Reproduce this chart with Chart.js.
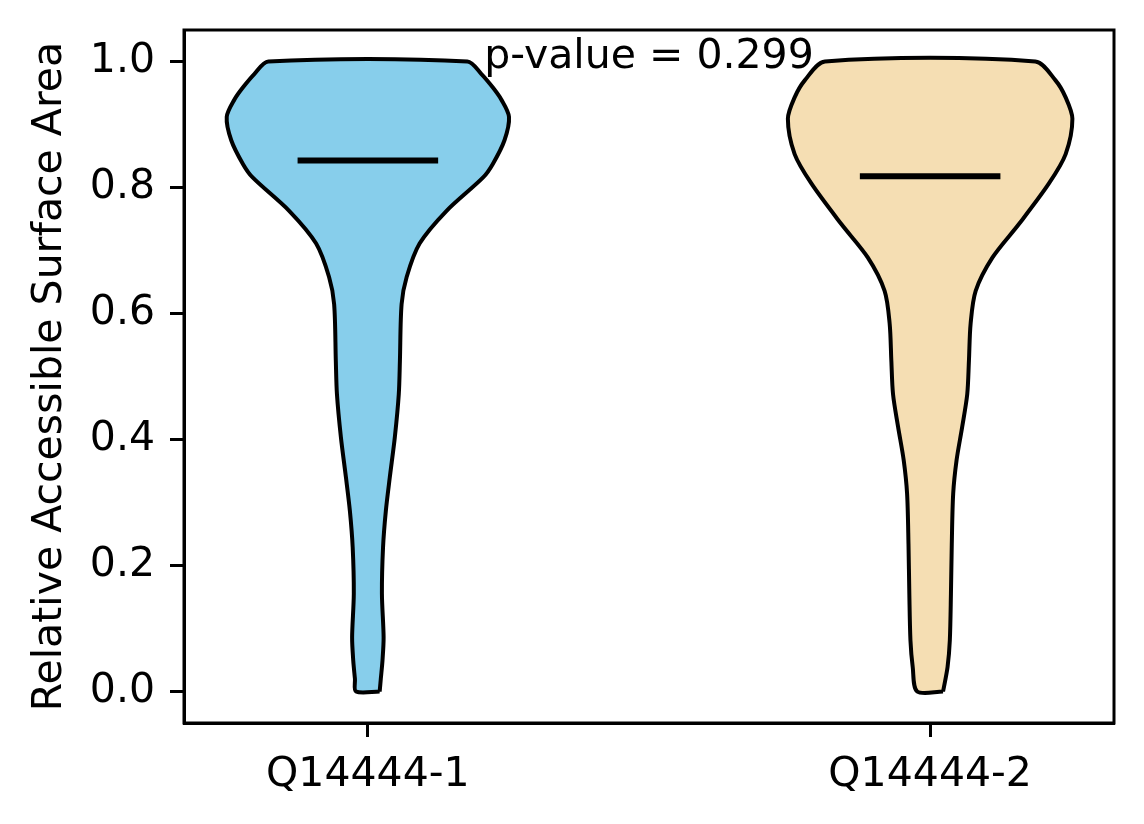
<!DOCTYPE html>
<html>
<head>
<meta charset="utf-8">
<script src="https://cdn.jsdelivr.net/npm/chart.js@4.4.0/dist/chart.umd.min.js"></script>
<style>
  html, body { margin: 0; padding: 0; background: #fff; }
  canvas { display: block; }
</style>
</head>
<body>
<canvas id="violinChart" width="1144" height="824"></canvas>
<script>
// groups and their x positions
const categories = ["Q14444-1", "Q14444-2"];
const positions = [0, 1];
const colors = ["#87CEEB", "#F5DEB3"];
const medians = [0.843, 0.818];
const medianHalfWidth = 0.125;

// violin outlines: level (y) and half width (x units)
const violin1Y = [0.0, 0.020, 0.049, 0.086, 0.155, 0.229, 0.287, 0.340, 0.404, 0.472, 0.525,
                  0.615, 0.658, 0.711, 0.763, 0.816, 0.837, 0.875, 0.912, 0.940, 0.959, 0.980, 1.0];
const violin1W = [0.021, 0.023, 0.026, 0.028, 0.025, 0.027, 0.032, 0.039, 0.048, 0.055, 0.057,
                  0.060, 0.069, 0.092, 0.140, 0.205, 0.222, 0.243, 0.251, 0.237, 0.222, 0.202, 0.177];
const violin2Y = [0.0, 0.039, 0.081, 0.155, 0.234, 0.314, 0.367, 0.420, 0.472, 0.525,
                  0.584, 0.636, 0.689, 0.742, 0.806, 0.853, 0.909, 0.943, 0.970, 1.0];
const violin2W = [0.023, 0.031, 0.035, 0.037, 0.0385, 0.041, 0.047, 0.057, 0.066, 0.069,
                  0.072, 0.081, 0.111, 0.158, 0.211, 0.241, 0.253, 0.241, 0.223, 0.187];

const yTicks = [0.0, 0.2, 0.4, 0.6, 0.8, 1.0];
const pValueText = "p-value = 0.299";
const pValueX = 0.5;
const pValueY = 0.99;

const FONT = { family: "DejaVu Sans", size: 41 };

function violinOutline(pos, ys, ws) {
  const right = ys.map((y, i) => ({ x: pos + ws[i], y: y }));
  const left = ys.map((y, i) => ({ x: pos - ws[i], y: y })).reverse();
  return right.concat(left, [right[0]]);
}

const outlines = [
  violinOutline(positions[0], violin1Y, violin1W),
  violinOutline(positions[1], violin2Y, violin2W),
];

const datasets = [];
outlines.forEach((pts, i) => {
  datasets.push({
    data: pts,
    order: 2,
    showLine: true,
    fill: "shape",
    backgroundColor: colors[i],
    borderColor: "#000",
    borderWidth: 4,
    tension: 0.3,
    pointRadius: 0,
  });
});
medians.forEach((m, i) => {
  datasets.push({
    data: [
      { x: positions[i] - medianHalfWidth, y: m },
      { x: positions[i] + medianHalfWidth, y: m },
    ],
    order: 1,
    showLine: true,
    fill: false,
    borderColor: "#000",
    borderWidth: 6,
    borderCapStyle: "butt",
    pointRadius: 0,
  });
});

// frame round the plot and the p-value note
const framePlugin = {
  id: "frame",
  afterDatasetsDraw(chart) {
    const { ctx, scales } = chart;
    ctx.save();
    ctx.fillStyle = "#000";
    ctx.font = FONT.size + "px '" + FONT.family + "'";
    ctx.textAlign = "center";
    ctx.textBaseline = "alphabetic";
    ctx.fillText(pValueText, scales.x.getPixelForValue(pValueX), scales.y.getPixelForValue(pValueY));
    ctx.restore();
  },
  afterDraw(chart) {
    const { ctx, chartArea } = chart;
    ctx.save();
    ctx.strokeStyle = "#000";
    ctx.lineWidth = 3;
    ctx.strokeRect(chartArea.left, chartArea.top,
      chartArea.right - chartArea.left, chartArea.bottom - chartArea.top);
    ctx.restore();
  },
};

new Chart(document.getElementById("violinChart"), {
  type: "scatter",
  data: { datasets: datasets },
  options: {
    responsive: false,
    animation: false,
    layout: { padding: { left: 0, top: 30, right: 30, bottom: 0 } },
    plugins: { legend: { display: false }, tooltip: { enabled: false } },
    scales: {
      x: {
        type: "linear",
        min: -0.327,
        max: 1.327,
        afterBuildTicks: (scale) => { scale.ticks = positions.map((v) => ({ value: v })); },
        afterFit: (scale) => {
          scale.height = 101;
          scale.paddingLeft = 0;
          scale.paddingRight = 0;
        },
        ticks: {
          color: "#000",
          font: FONT,
          padding: 14,
          maxRotation: 0,
          callback: (value, index) => categories[index],
        },
        grid: { drawOnChartArea: false, drawTicks: true, tickLength: 14, tickWidth: 3, color: "#000" },
        border: { display: true, color: "#000", width: 3 },
      },
      y: {
        min: -0.05,
        max: 1.05,
        afterBuildTicks: (scale) => { scale.ticks = yTicks.map((v) => ({ value: v })); },
        afterFit: (scale) => {
          scale.width = 184;
          scale.paddingTop = 0;
          scale.paddingBottom = 0;
        },
        ticks: {
          color: "#000",
          font: FONT,
          padding: 15,
          callback: (value) => value.toFixed(1),
        },
        grid: { drawOnChartArea: false, drawTicks: true, tickLength: 14, tickWidth: 3, color: "#000" },
        border: { display: true, color: "#000", width: 3 },
        title: {
          display: true,
          text: "Relative Accessible Surface Area",
          color: "#000",
          font: FONT,
          padding: { top: 26, bottom: 0 },
        },
      },
    },
  },
  plugins: [framePlugin],
});
</script>
</body>
</html>
